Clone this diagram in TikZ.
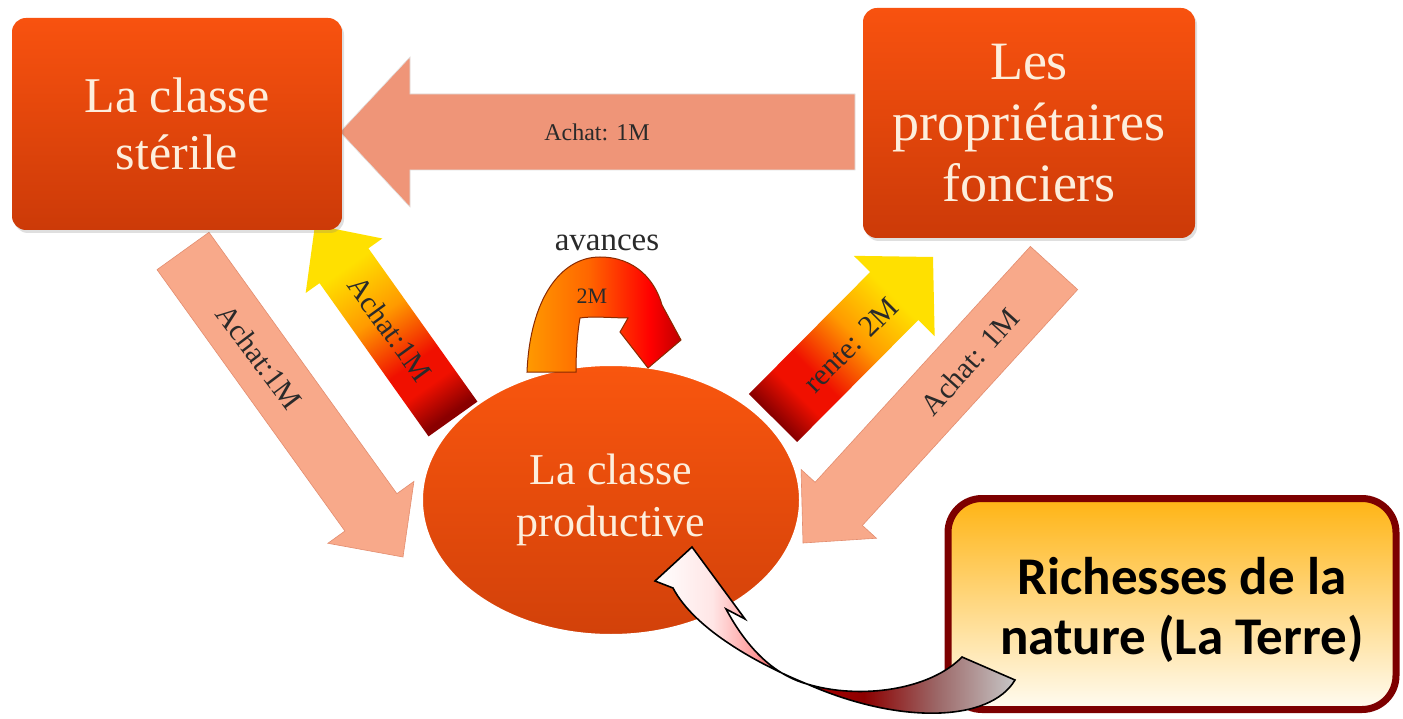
\documentclass[tikz,border=0pt]{standalone}
\usepackage{fontspec}
\setmainfont{Liberation Serif}
\newfontfamily\calib{Carlito}
\usetikzlibrary{calc,shadows,shapes.geometric}
\definecolor{boxtop}{HTML}{F8520F}
\definecolor{boxbot}{HTML}{CC3A08}
\definecolor{ellTop}{HTML}{F9560E}
\definecolor{ellBot}{HTML}{D2410A}
\definecolor{cream}{HTML}{FDEEDC}
\definecolor{salmonT}{HTML}{EF9578}
\definecolor{salmonD}{HTML}{F8A98A}
\definecolor{salmonEdge}{HTML}{E38D6F}
\definecolor{terreBorder}{HTML}{7D0000}
\definecolor{terreTop}{HTML}{FFB414}
\definecolor{terreBot}{HTML}{FFFCF2}
\definecolor{labelink}{HTML}{2A2A2A}
\definecolor{avEdge}{HTML}{8A2A00}
\definecolor{hotY}{HTML}{FFE000}
\definecolor{hotO}{HTML}{FF9A00}
\definecolor{hotR}{HTML}{F01000}
\definecolor{hotD}{HTML}{8A0000}
\pgfdeclarehorizontalshading{hotarrow}{100bp}{color(0bp)=(hotY); color(30bp)=(hotY); color(45bp)=(hotO); color(60bp)=(hotR); color(67bp)=(hotR); color(76bp)=(hotD); color(100bp)=(hotD)}
\pgfdeclarehorizontalshading{avshade}{100bp}{color(0bp)=(orange!80!yellow); color(25bp)=(orange!80!yellow); color(45bp)=(orange!80!red); color(65bp)=(red); color(75bp)=(red!75!black); color(100bp)=(red!75!black)}
\pgfdeclarehorizontalshading{ribbon}{100bp}{color(0bp)=(white); color(25bp)=(white); color(33bp)=(red!10!white); color(39bp)=(red!40!white); color(45bp)=(red!70!black); color(54bp)=(red!55!black); color(64bp)=(red!35!black!60!white); color(75bp)=(black!22); color(100bp)=(black!22)}
\newcommand\blockarrow[6]{%
  \coordinate (ba-n) at ($(#2)!#5!(#1)$);
  \path[#6] ($(#1)!#3!90:(#2)$) -- ($(ba-n)!#3!90:(#2)$) -- ($(ba-n)!#4!90:(#2)$) -- (#2)
    -- ($(ba-n)!#4!-90:(#2)$) -- ($(ba-n)!#3!-90:(#2)$) -- ($(#1)!#3!-90:(#2)$) -- cycle;}
\tikzset{
  classbox/.style={rectangle, rounded corners=14pt, top color=boxtop, bottom color=boxbot,
    text=cream, align=center, inner sep=0pt,
    drop shadow={opacity=.25, shadow xshift=2pt, shadow yshift=-3pt}},
  prodell/.style={ellipse, top color=ellTop, bottom color=ellBot, draw=white, line width=2pt,
    text=cream, align=center, inner sep=0pt, minimum width=378pt, minimum height=270pt,
    font=\fontsize{44}{52}\selectfont},
  flatarrow/.style={fill=salmonD, draw=salmonEdge, line width=.6pt},
  toparrow/.style={fill=salmonT, draw=black!12, line width=.6pt},
  hotsty/.style={shading=hotarrow},
  arrowlbl/.style={text=labelink, font=\fontsize{30}{32}\selectfont, inner sep=0pt},
  terrebox/.style={rectangle, rounded corners=34pt, draw=terreBorder, line width=7pt,
    top color=terreTop, bottom color=terreBot, minimum width=448pt, minimum height=211pt},
  terretext/.style={align=center, text=black, font=\calib\bfseries\fontsize{53}{60}\selectfont, inner sep=0pt},
  avsty/.style={shading=avshade, draw=avEdge, line width=1pt},
  ribbonsty/.style={shading=ribbon, draw=black, line width=1.6pt, line join=miter}
}
\begin{document}
\begin{tikzpicture}[x=1pt, y=-1pt]
\useasboundingbox (0,0) rectangle (1403,719);
\fill[white] (0,0) rectangle (1403,719);

% coordinates of the block arrows
\coordinate (topTail) at (855,132);   \coordinate (topTip) at (340,132);
\coordinate (ldTail) at (183,251);    \coordinate (ldTip) at (403,557);
\coordinate (luTail) at (453,419);    \coordinate (luTip) at (315,225);
\coordinate (ruTail) at (773,418);    \coordinate (ruTip) at (933,257);
\coordinate (rdTail) at (1054,268);   \coordinate (rdTip) at (803,543);

% block arrows
\blockarrow{topTail}{topTip}{38pt}{75pt}{70pt}{toparrow}
\blockarrow{ldTail}{ldTip}{32pt}{53pt}{55pt}{flatarrow}
\blockarrow{rdTail}{rdTip}{32pt}{51pt}{53pt}{flatarrow}
\blockarrow{luTail}{luTip}{30pt}{47pt}{50pt}{hotsty, shading angle=-55}
\blockarrow{ruTail}{ruTip}{34pt}{57pt}{55pt}{hotsty, shading angle=-135}

% arrow labels
\node[text=labelink, font=\fontsize{24}{26}\selectfont, inner sep=0pt] (lblTop) at (597,132) {Achat: 1M};
\node[arrowlbl, rotate=-53] (lblLD) at (259,357) {Achat:1M};
\node[arrowlbl, rotate=-54] (lblLU) at (390,329) {Achat:1M};
\node[arrowlbl, rotate=45] (lblRU) at (851,345) {rente: 2M};
\node[arrowlbl, rotate=48] (lblRD) at (970,362) {Achat: 1M};

% class boxes
\node[classbox, minimum width=330pt, minimum height=212pt, font=\fontsize{50}{57}\selectfont]
  (sterile) at (177,124) {La classe\\stérile};
\node[classbox, minimum width=332pt, minimum height=230pt, font=\fontsize{54}{61}\selectfont]
  (prop) at (1029,123) {Les\\propriétaires\\fonciers};
\node[prodell] (prod) at (611,500) {La classe\\productive};

% avances loop arrow
\path[avsty] (527,372) .. controls (530,300) and (560,257) .. (600,257)
  .. controls (635,257) and (655,280) .. (662,305) -- (681,340) -- (648,368)
  -- (620,332) -- (628,318) .. controls (615,318) and (592,316) .. (580,318)
  .. controls (577,335) and (576,355) .. (576,372) -- cycle;
\node[text=labelink, font=\fontsize{33}{35}\selectfont, inner sep=0pt] (lblAv) at (607,243) {avances};
\node[text=labelink, font=\fontsize{22}{24}\selectfont, inner sep=0pt] (lblAv2) at (592,296) {2M};

% nature box
\node[terrebox] (terre) at (1172,604) {};
\node[terretext] (terreText) at (1182,610) {Richesses de la\\nature (La Terre)};

% twisted curved arrow from the nature box to the productive class
\coordinate (rbTip) at (692,547);
\path[ribbonsty] (rbTip) -- (745,619) -- (726,609)
  .. controls (748,650) and (775,675) .. (807,684)
  .. controls (860,700) and (930,690) .. (962,657) -- (1015,680)
  .. controls (990,722) and (900,725) .. (807,684)
  .. controls (760,665) and (695,630) .. (673,588) -- (655,581) -- cycle;
\end{tikzpicture}
\end{document}
